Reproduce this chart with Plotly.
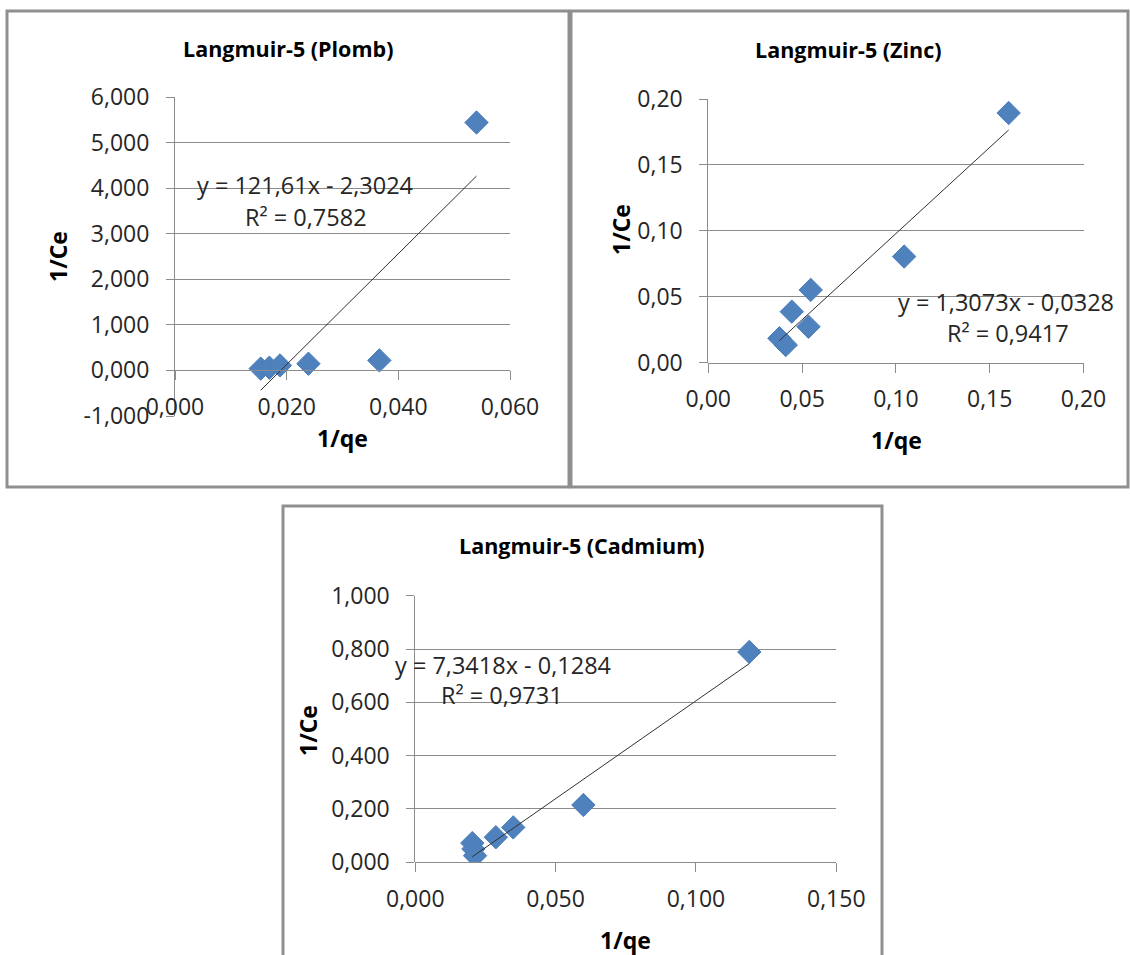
import plotly.graph_objects as go

W, H = 1130, 955

# ---------------- data ----------------
plomb_x = [0.01535, 0.0169, 0.0188, 0.0239, 0.0366, 0.0540]
plomb_y = [0.040, 0.060, 0.110, 0.147, 0.220, 5.440]
plomb_slope, plomb_icpt, plomb_r2 = 121.61, -2.3024, 0.7582
plomb_yticks = [-1, 0, 1, 2, 3, 4, 5, 6]
plomb_xticks = [0.0, 0.02, 0.04, 0.06]

zinc_x = [0.1601, 0.1044, 0.0546, 0.0445, 0.0534, 0.0379, 0.0413]
zinc_y = [0.1894, 0.0805, 0.0552, 0.0387, 0.0273, 0.0185, 0.0134]
zinc_slope, zinc_icpt, zinc_r2 = 1.3073, -0.0328, 0.9417
zinc_yticks = [0.0, 0.05, 0.10, 0.15, 0.20]
zinc_xticks = [0.0, 0.05, 0.10, 0.15, 0.20]

cad_x = [0.1190, 0.0599, 0.0349, 0.0287, 0.0203, 0.0207, 0.0213]
cad_y = [0.789, 0.215, 0.131, 0.094, 0.072, 0.050, 0.025]
cad_slope, cad_icpt, cad_r2 = 7.3418, -0.1284, 0.9731
cad_yticks = [0.0, 0.2, 0.4, 0.6, 0.8, 1.0]
cad_xticks = [0.0, 0.05, 0.10, 0.15]

titles = ["Langmuir-5 (Plomb)", "Langmuir-5 (Zinc)", "Langmuir-5 (Cadmium)"]
x_title = "1/qe"
y_title = "1/Ce"

# ---------------- style ----------------
FONT = "Open Sans"
BLUE = "#4F81BD"
GRID = "#8c8c8c"
TXT = "#262626"


def px(x):
    return x / W


def py(y):
    return 1 - y / H


def fmt(v, nd):
    return f"{v:.{nd}f}".replace(".", ",")


def eq_text(s, b):
    sign = "-" if b < 0 else "+"
    return f"y = {fmt(s, 2 if abs(s) >= 100 else 4)}x {sign} {fmt(abs(b), 4)}"


fig = go.Figure()

panels = [
    dict(x=plomb_x, y=plomb_y, s=plomb_slope, b=plomb_icpt, r2=plomb_r2,
         yt=plomb_yticks, xt=plomb_xticks, ynd=3, xnd=3,
         px0=175, px1=510, py0=97, py1=416,
         box=(7, 11, 569, 487), tpos=(288, 49), xtpos=(342, 438), ytpos=(58, 257),
         eqpos=(305, 185), r2pos=(306, 217)),
    dict(x=zinc_x, y=zinc_y, s=zinc_slope, b=zinc_icpt, r2=zinc_r2,
         yt=zinc_yticks, xt=zinc_xticks, ynd=2, xnd=2,
         px0=708.3, px1=1083.5, py0=99, py1=362.7,
         box=(571, 11, 1128, 487), tpos=(848, 50), xtpos=(896, 440), ytpos=(621, 230),
         eqpos=(1006, 302), r2pos=(1008, 333)),
    dict(x=cad_x, y=cad_y, s=cad_slope, b=cad_icpt, r2=cad_r2,
         yt=cad_yticks, xt=cad_xticks, ynd=3, xnd=3,
         px0=415.3, px1=836.3, py0=595.7, py1=862.3,
         box=(283, 506, 882, 975), tpos=(582, 545), xtpos=(625, 940), ytpos=(308, 731),
         eqpos=(503, 665), r2pos=(502, 695)),
]

annotations = []
shapes = []

for i, p in enumerate(panels):
    k = "" if i == 0 else str(i + 1)
    xa, ya = "x" + k, "y" + k
    xr = [p["xt"][0], p["xt"][-1]]
    yr = [p["yt"][0], p["yt"][-1]]
    ydom = [py(p["py1"]), py(p["py0"])]
    xdom = [px(p["px0"]), px(p["px1"])]
    # x axis sits at y = 0 of the data
    xpos = ydom[0] + (0 - yr[0]) / (yr[1] - yr[0]) * (ydom[1] - ydom[0])

    fig.add_trace(go.Scatter(
        x=p["x"], y=p["y"], mode="markers", xaxis=xa, yaxis=ya,
        marker=dict(symbol="diamond", size=18, color=BLUE,
                    line=dict(color="#4A7EBB", width=1)),
        showlegend=False, hoverinfo="skip"))
    xmin, xmax = min(p["x"]), max(p["x"])
    fig.add_trace(go.Scatter(
        x=[xmin, xmax], y=[p["s"] * xmin + p["b"], p["s"] * xmax + p["b"]],
        mode="lines", xaxis=xa, yaxis=ya,
        line=dict(color="#303030", width=1),
        showlegend=False, hoverinfo="skip"))

    fig.update_layout({
        "xaxis" + k: dict(
            domain=xdom, range=xr, anchor="free", position=xpos, automargin=False,
            tickvals=p["xt"], ticktext=[fmt(v, p["xnd"]) for v in p["xt"]],
            showgrid=False, zeroline=False,
            showline=True, linecolor=GRID, linewidth=1,
            ticks="outside", ticklen=9, tickcolor=GRID, tickwidth=1,
            ticklabelstandoff=7,
            tickfont=dict(family=FONT, size=23, color=TXT)),
        "yaxis" + k: dict(
            domain=ydom, range=yr, anchor=xa, automargin=False,
            tickvals=p["yt"], ticktext=[fmt(v, p["ynd"]) for v in p["yt"]],
            showgrid=True, gridcolor=GRID, gridwidth=1, zeroline=False,
            showline=True, linecolor=GRID, linewidth=1,
            ticks="outside", ticklen=8, tickcolor=GRID, tickwidth=1,
            ticklabelstandoff=12,
            tickfont=dict(family=FONT, size=23, color=TXT)),
    })

    x0, y0, x1, y1 = p["box"]
    shapes.append(dict(type="rect", xref="paper", yref="paper",
                       x0=px(x0), x1=px(x1), y0=py(y1), y1=py(y0),
                       line=dict(color="#8f8f8f", width=3), layer="below"))
    annotations.append(dict(text=f"<b>{titles[i]}</b>", xref="paper", yref="paper",
                            x=px(p["tpos"][0]), y=py(p["tpos"][1]), showarrow=False,
                            xanchor="center", yanchor="middle",
                            font=dict(family=FONT, size=21.5, color="#000000")))
    annotations.append(dict(text=f"<b>{x_title}</b>", xref="paper", yref="paper",
                            x=px(p["xtpos"][0]), y=py(p["xtpos"][1]), showarrow=False,
                            xanchor="center", yanchor="middle",
                            font=dict(family=FONT, size=23, color="#000000")))
    annotations.append(dict(text=f"<b>{y_title}</b>", xref="paper", yref="paper",
                            x=px(p["ytpos"][0]), y=py(p["ytpos"][1]), showarrow=False,
                            textangle=-90, xanchor="center", yanchor="middle",
                            font=dict(family=FONT, size=23, color="#000000")))
    annotations.append(dict(text=eq_text(p["s"], p["b"]), xref="paper", yref="paper",
                            x=px(p["eqpos"][0]), y=py(p["eqpos"][1]), showarrow=False,
                            xanchor="center", yanchor="middle",
                            font=dict(family=FONT, size=23.5, color=TXT)))
    annotations.append(dict(text=f"R² = {fmt(p['r2'], 4)}", xref="paper", yref="paper",
                            x=px(p["r2pos"][0]), y=py(p["r2pos"][1]), showarrow=False,
                            xanchor="center", yanchor="middle",
                            font=dict(family=FONT, size=23.5, color=TXT)))

fig.update_layout(
    width=W, height=H, autosize=False,
    margin=dict(l=0, r=0, t=0, b=0, pad=0, autoexpand=False),
    paper_bgcolor="white", plot_bgcolor="white",
    shapes=shapes, annotations=annotations,
    showlegend=False,
)

fig.write_html("out.html", config={"displayModeBar": False},
               post_script="document.body.style.margin='0px';")
